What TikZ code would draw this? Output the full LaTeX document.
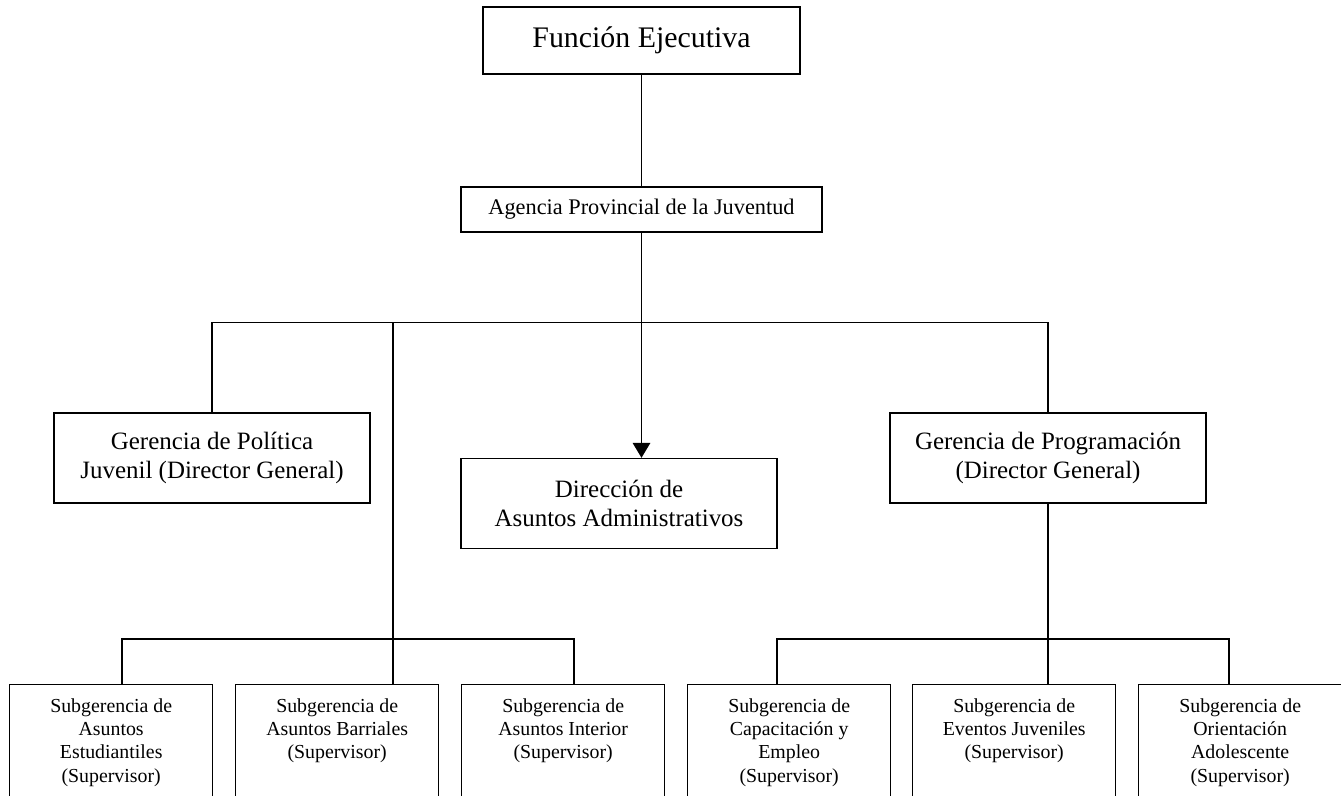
\documentclass[tikz,border=0pt]{standalone}
\usepackage{fontspec}
\setmainfont{Liberation Serif}
\usepackage{tikz}
\usetikzlibrary{arrows.meta, positioning, calc}

\newcommand{\subtext}[1]{\parbox[t][2.8cm][t]{3.9cm}{\centering\vspace*{8pt}#1}}

\begin{document}
\begin{tikzpicture}[x=0.02cm, y=-0.02cm, line width=0.8pt,
    topbox/.style={draw, minimum width=6.34cm, minimum height=1.34cm, inner sep=0pt, font=\fontsize{17}{20}\selectfont},
    agbox/.style={draw, minimum width=7.22cm, minimum height=0.9cm, inner sep=0pt, font=\fontsize{12.7}{15}\selectfont},
    gerbox/.style={draw, minimum width=6.32cm, minimum height=1.8cm, inner sep=0pt, align=center, font=\fontsize{14.2}{16.5}\selectfont},
    subbox/.style={draw, minimum width=4.06cm, inner sep=0pt, anchor=north west, font=\fontsize{11.3}{13.2}\selectfont}]

    \useasboundingbox (0,0) rectangle (1341,795);

    % Top levels
    \node[topbox] (fe) at (641.5, 40.5) {\raisebox{2pt}{Función Ejecutiva}};
    \node[agbox] (apj) at (641.5, 209.5) {Agencia Provincial de la Juventud};

    % Gerencias
    \node[gerbox] (gpj) at (212, 458) {Gerencia de Política\\Juvenil (Director General)};
    \node[gerbox] (das) at (619, 503.5) {Dirección de\\Asuntos Administrativos};
    \node[gerbox] (gpr) at (1048, 458) {Gerencia de Programación\\(Director General)};

    % Subgerencias
    \node[subbox] (s1) at (9, 684) {\subtext{Subgerencia de\\Asuntos\\Estudiantiles\\(Supervisor)}};
    \node[subbox] (s2) at (235, 684) {\subtext{Subgerencia de\\Asuntos Barriales\\(Supervisor)}};
    \node[subbox] (s3) at (461, 684) {\subtext{Subgerencia de\\Asuntos Interior\\(Supervisor)}};
    \node[subbox] (s4) at (687, 684) {\subtext{Subgerencia de\\Capacitación y\\Empleo\\(Supervisor)}};
    \node[subbox] (s5) at (912, 684) {\subtext{Subgerencia de\\Eventos Juveniles\\(Supervisor)}};
    \node[subbox] (s6) at (1138, 684) {\subtext{Subgerencia de\\Orientación\\Adolescente\\(Supervisor)}};

    % Bus points
    \coordinate (jL) at (393, 323);
    \coordinate (b1) at (122, 639);
    \coordinate (b3) at (574, 639);
    \coordinate (b4) at (777, 639);
    \coordinate (b6) at (1229, 639);

    % Connectors
    \draw (fe.south) -- (apj.north);
    \draw[-{Triangle[width=10pt, length=8.5pt]}] (apj.south) -- (apj.south |- das.north);
    \draw (gpj.north) -- ++(0,-90) -| (gpr.north);
    \draw (jL) -- (jL |- s2.north);
    \draw (b1 |- s1.north) -- (b1) -- (b3) -- (b3 |- s3.north);
    \draw (gpr.south) -- (gpr.south |- s5.north);
    \draw (b4 |- s4.north) -- (b4) -- (b6) -- (b6 |- s6.north);

\end{tikzpicture}
\end{document}
